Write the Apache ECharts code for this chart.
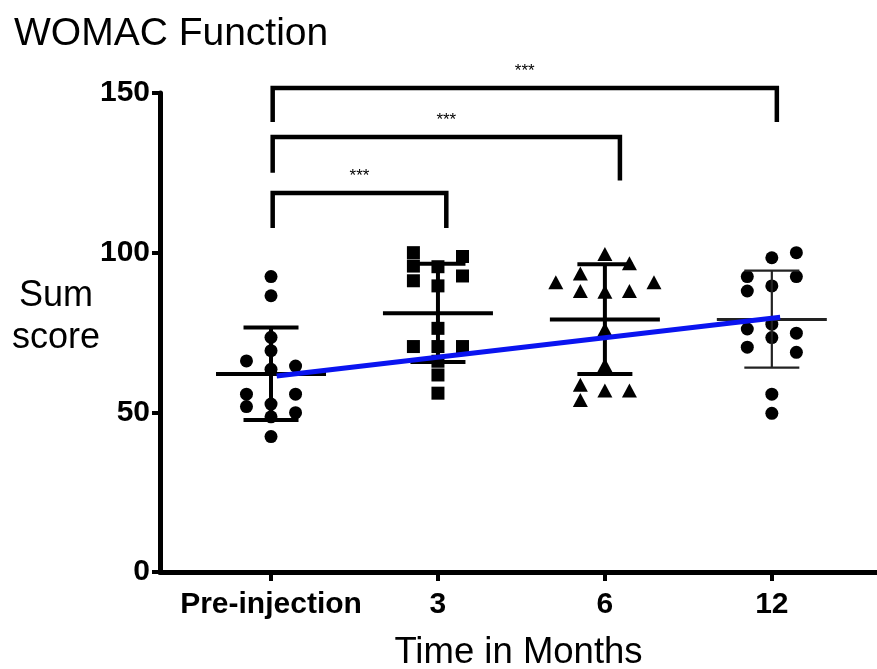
<!DOCTYPE html>
<html>
<head>
<meta charset="utf-8">
<script src="https://cdn.jsdelivr.net/npm/echarts@6/dist/echarts.min.js"></script>
<style>html,body{margin:0;padding:0;background:#fff;}#c{width:877px;height:669px;}</style>
</head>
<body>
<div id="c"></div>
<script>
// ---------- data ----------
const categories = ['Pre-injection', '3', '6', '12'];
const yTicks = [0, 50, 100, 150];
const yAxisTitle = 'Sum\nscore';

const preValues = [92.5, 86.5, 73.5, 69.3, 63.5, 52.6, 48.6, 42.4, 66.1, 55.7, 51.8, 64.5, 55.7, 49.9];
const preLanes  = [0, 0, 0, 0, 0, 0, 0, 0, -1, -1, -1, 1, 1, 1];

const m3Values = [100.0, 95.8, 91.2, 95.6, 89.6, 76.3, 70.6, 66.0, 61.7, 56.0, 98.8, 92.7, 70.6, 70.6];
const m3Lanes  = [-1, -1, -1, 0, 0, 0, 0, 0, 0, 0, 1, 1, -1, 1];

const m6Values = [99.6, 87.8, 76.0, 64.8, 56.8, 96.7, 88.0, 56.8, 93.5, 88.0, 58.6, 53.9, 90.7, 90.7];
const m6Lanes  = [0, 0, 0, 0, 0, 1, 1, 1, -1, -1, -1, -1, -2, 2];

const m12Values = [98.4, 89.6, 77.6, 73.4, 55.7, 49.7, 100.0, 92.5, 74.8, 68.8, 92.5, 88.0, 76.1, 70.4];
const m12Lanes  = [0, 0, 0, 0, 0, 0, 1, 1, 1, 1, -1, -1, -1, -1];

const means  = [62.0, 81.0, 79.1, 79.1];
const sdLow  = [47.6, 65.8, 62.0, 64.0];
const sdHigh = [76.6, 96.5, 96.4, 94.4];

const trendX = [0.034, 3.05];
const trendY = [61.4, 79.8];

const bracketLeft  = [0.01, 0.01, 0.01];
const bracketRight = [1.05, 2.09, 3.03];
const bracketTop   = [118.7, 136.2, 151.6];
const bracketLeftBottom  = [107.7, 125.0, 140.9];
const bracketRightBottom = [107.7, 122.6, 140.9];
const bracketLabels = ['***', '***', '***'];

// ---------- layout / style ----------
const LANE_W = 0.147;
const FONT = "'Liberation Sans', Arial, Helvetica, sans-serif";
const errStyles = [
  {color: '#000', meanW: 4, sdW: 4},
  {color: '#000', meanW: 4, sdW: 4},
  {color: '#000', meanW: 4, sdW: 4},
  {color: '#222', meanW: 3, sdW: 2.2}
];

function pts(values, lanes, idx) {
  return values.map((v, k) => [idx + lanes[k] * LANE_W, v]);
}

const chart = echarts.init(document.getElementById('c'), null, {renderer: 'canvas'});

const errData = categories.map((c, i) => [i, means[i], sdLow[i], sdHigh[i]]);
const bracketData = bracketLeft.map((l, i) => [l, bracketRight[i], bracketTop[i], bracketLeftBottom[i], bracketRightBottom[i]]);
const dot = {color: '#000', opacity: 1};

const option = {
  animation: false,
  backgroundColor: '#fff',
  title: {
    text: 'WOMAC Function',
    left: 9, top: 10,
    textStyle: {fontFamily: FONT, fontSize: 39, fontWeight: 'normal', color: '#000'}
  },
  graphic: [{
    type: 'text',
    style: {text: yAxisTitle, x: 56, y: 317, align: 'center', verticalAlign: 'middle',
      fontFamily: FONT, fontSize: 36, lineHeight: 42, fill: '#000'}
  }],
  grid: {left: 160, right: 0, top: 93, bottom: 97, containLabel: false, outerBoundsMode: 'none'},
  xAxis: {
    type: 'value',
    min: -0.665, max: 3.63,
    name: 'Time in Months',
    nameLocation: 'middle',
    nameGap: 62,
    nameTextStyle: {fontFamily: FONT, fontSize: 36.5, color: '#000'},
    splitLine: {show: false},
    axisLine: {show: true, onZero: false, lineStyle: {color: '#000', width: 5}},
    axisTick: {show: true, customValues: [0, 1, 2, 3], length: 9, lineStyle: {color: '#000', width: 4}},
    axisLabel: {
      customValues: [0, 1, 2, 3],
      formatter: v => categories[Math.round(v)],
      margin: 18,
      fontFamily: FONT, fontSize: 30, fontWeight: 'bold', color: '#000'
    }
  },
  yAxis: {
    type: 'value',
    min: 0, max: 150, interval: 50,
    splitLine: {show: false},
    axisLine: {show: true, onZero: false, lineStyle: {color: '#000', width: 5}},
    axisTick: {show: true, length: 8, lineStyle: {color: '#000', width: 4}},
    axisLabel: {
      margin: 10,
      formatter: v => (yTicks.indexOf(v) >= 0 ? String(v) : ''),
      fontFamily: FONT, fontSize: 30, fontWeight: 'bold', color: '#000'
    }
  },
  series: [
    {type: 'scatter', name: categories[0], data: pts(preValues, preLanes, 0), symbol: 'circle', symbolSize: 13, itemStyle: dot, z: 2},
    {type: 'scatter', name: categories[1], data: pts(m3Values, m3Lanes, 1), symbol: 'rect', symbolSize: 13, itemStyle: dot, z: 2},
    {type: 'scatter', name: categories[2], data: pts(m6Values, m6Lanes, 2), symbol: 'triangle', symbolSize: [15, 14], itemStyle: dot, z: 2},
    {type: 'scatter', name: categories[3], data: pts(m12Values, m12Lanes, 3), symbol: 'circle', symbolSize: 13, itemStyle: dot, z: 2},
    {
      type: 'custom', name: 'mean ± SD', z: 3,
      data: errData,
      encode: {x: 0, y: [1, 2, 3]},
      renderItem: function (params, api) {
        const i = api.value(0);
        const pm = api.coord([i, api.value(1)]);
        const pl = api.coord([i, api.value(2)]);
        const ph = api.coord([i, api.value(3)]);
        const st = errStyles[params.dataIndex];
        const s1 = {stroke: st.color, lineWidth: st.meanW};
        const s2 = {stroke: st.color, lineWidth: st.sdW};
        return {type: 'group', children: [
          {type: 'line', shape: {x1: pm[0] - 55, y1: pm[1], x2: pm[0] + 55, y2: pm[1]}, style: s1},
          {type: 'line', shape: {x1: pl[0], y1: pl[1], x2: ph[0], y2: ph[1]}, style: s2},
          {type: 'line', shape: {x1: pl[0] - 27.5, y1: pl[1], x2: pl[0] + 27.5, y2: pl[1]}, style: s2},
          {type: 'line', shape: {x1: ph[0] - 27.5, y1: ph[1], x2: ph[0] + 27.5, y2: ph[1]}, style: s2}
        ]};
      }
    },
    {
      type: 'line', name: 'trend', z: 5,
      data: trendX.map((x, k) => [x, trendY[k]]),
      symbol: 'none',
      lineStyle: {color: '#0a14f0', width: 5},
      itemStyle: {color: '#0a14f0'}
    },
    {
      type: 'custom', name: 'significance', z: 4, clip: false,
      data: bracketData,
      encode: {x: [0, 1], y: [2, 3, 4]},
      renderItem: function (params, api) {
        const l = api.value(0), r = api.value(1);
        const pTL = api.coord([l, api.value(2)]);
        const pTR = api.coord([r, api.value(2)]);
        const pLB = api.coord([l, api.value(3)]);
        const pRB = api.coord([r, api.value(4)]);
        return {type: 'group', children: [
          {type: 'polyline', shape: {points: [pLB, pTL, pTR, pRB]}, style: {stroke: '#000', lineWidth: 4.5, fill: null, lineJoin: 'miter'}},
          {type: 'text', style: {text: bracketLabels[params.dataIndex], x: (pTL[0] + pTR[0]) / 2, y: pTL[1] - 17,
            align: 'center', verticalAlign: 'middle', fontFamily: FONT, fontSize: 17, fill: '#000'}}
        ]};
      }
    }
  ]
};
chart.setOption(option);
</script>
</body>
</html>
